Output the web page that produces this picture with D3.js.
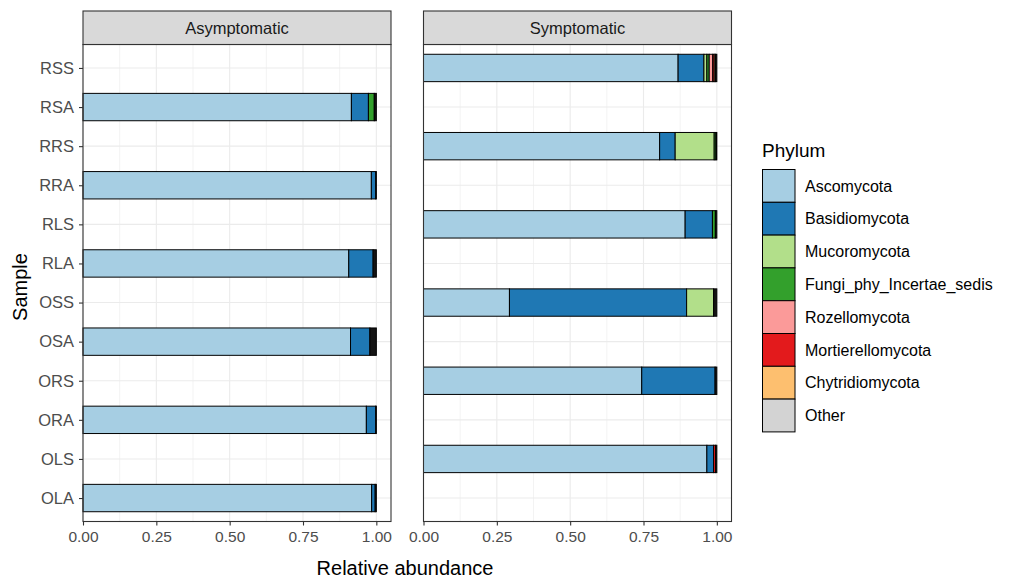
<!DOCTYPE html>
<html><head><meta charset="utf-8">
<script src="https://cdn.jsdelivr.net/npm/d3@7"></script>
<style>
body{margin:0;background:#fff;}
text{font-family:"Liberation Sans",Arial,sans-serif;}
</style></head>
<body><svg id="chart" width="1015" height="579"></svg>
<script>
// ---- data ----
const samples = ["RSS","RSA","RRS","RRA","RLS","RLA","OSS","OSA","ORS","ORA","OLS","OLA"];
const sampleGroup = ["Symptomatic","Asymptomatic","Symptomatic","Asymptomatic","Symptomatic","Asymptomatic",
                     "Symptomatic","Asymptomatic","Symptomatic","Asymptomatic","Symptomatic","Asymptomatic"];
const groups = ["Asymptomatic","Symptomatic"];
const phyla = ["Ascomycota","Basidiomycota","Mucoromycota","Fungi_phy_Incertae_sedis","Rozellomycota","Mortierellomycota","Chytridiomycota","Other"];
const phylaColors = ["#A6CEE3","#1F78B4","#B2DF8A","#33A02C","#FB9A99","#E31A1C","#FDBF6F","#D3D3D3"];
// relative abundance per phylum, in sample order
const ascomycota      = [0.868,0.915,0.805,0.983,0.892,0.906,0.293,0.912,0.744,0.966,0.966,0.984];
const basidiomycota   = [0.088,0.058,0.053,0.015,0.093,0.083,0.604,0.066,0.250,0.032,0.023,0.012];
const mucoromycota    = [0.010,0.000,0.133,0.000,0.000,0.000,0.092,0.000,0.000,0.000,0.000,0.000];
const fungiIncertae   = [0.008,0.020,0.006,0.000,0.010,0.000,0.000,0.000,0.000,0.000,0.000,0.000];
const rozellomycota   = [0.012,0.000,0.000,0.000,0.000,0.000,0.000,0.000,0.000,0.000,0.000,0.000];
const mortierellomycota=[0.005,0.000,0.000,0.000,0.000,0.000,0.000,0.000,0.000,0.000,0.007,0.000];
const chytridiomycota = [0.004,0.000,0.000,0.000,0.000,0.000,0.000,0.000,0.000,0.000,0.000,0.000];
const other           = [0.000,0.000,0.000,0.000,0.000,0.000,0.000,0.000,0.000,0.000,0.000,0.000];
// many tiny low-abundance OTU segments (their black outlines merge into a dark sliver)
const rareOTUs        = [0.005,0.007,0.003,0.002,0.005,0.011,0.011,0.022,0.006,0.002,0.004,0.004];
const xTicks = [0,0.25,0.5,0.75,1];
const xMinorTicks = [0.125,0.375,0.625,0.875];

const seriesValues = [ascomycota,basidiomycota,mucoromycota,fungiIncertae,rozellomycota,mortierellomycota,chytridiomycota,other,rareOTUs];
const seriesColors = phylaColors.concat(["#141414"]);

// ---- layout ----
const svg = d3.select("#chart");
const panelTop = 44.5, panelBottom = 521.5, stripTop = 11;
const panelX = {Asymptomatic:[83,391], Symptomatic:[423.5,731.5]};
const tickFont = 15.5;

const y = d3.scalePoint().domain(samples).range([panelTop, panelBottom]).padding(0.6);
const barH = y.step()*0.7;

groups.forEach(g => {
  const [x0,x1] = panelX[g];
  const x = d3.scaleLinear().domain([0,1.05]).range([x0,x1]);
  const p = svg.append("g");
  p.append("rect").attr("x",x0).attr("y",panelTop).attr("width",x1-x0).attr("height",panelBottom-panelTop).attr("fill","#fff");
  p.selectAll(".mn").data(xMinorTicks).join("line")
    .attr("x1",d=>x(d)).attr("x2",d=>x(d)).attr("y1",panelTop).attr("y2",panelBottom)
    .attr("stroke","#EBEBEB").attr("stroke-width",0.6);
  p.selectAll(".mj").data(xTicks).join("line")
    .attr("x1",d=>x(d)).attr("x2",d=>x(d)).attr("y1",panelTop).attr("y2",panelBottom)
    .attr("stroke","#EBEBEB").attr("stroke-width",1.1);
  p.selectAll(".my").data(samples).join("line")
    .attr("x1",x0).attr("x2",x1).attr("y1",d=>y(d)).attr("y2",d=>y(d))
    .attr("stroke","#EBEBEB").attr("stroke-width",1.1);
  samples.forEach((s,i) => {
    if (sampleGroup[i] !== g) return;
    let cum = 0;
    seriesValues.forEach((vals,k) => {
      const v = vals[i];
      if (v <= 0) return;
      p.append("rect")
        .attr("x",x(cum)).attr("width",x(cum+v)-x(cum))
        .attr("y",y(s)-barH/2).attr("height",barH)
        .attr("fill",seriesColors[k]).attr("stroke","#000").attr("stroke-width",1);
      cum += v;
    });
  });
  p.append("rect").attr("x",x0).attr("y",panelTop).attr("width",x1-x0).attr("height",panelBottom-panelTop)
    .attr("fill","none").attr("stroke","#333").attr("stroke-width",1.1);
  p.append("rect").attr("x",x0).attr("y",stripTop).attr("width",x1-x0).attr("height",panelTop-stripTop)
    .attr("fill","#D9D9D9").attr("stroke","#333").attr("stroke-width",1.1);
  p.append("text").attr("x",(x0+x1)/2).attr("y",(stripTop+panelTop)/2).attr("dy","0.35em")
    .attr("text-anchor","middle").attr("font-size",16.5).attr("fill","#1A1A1A").text(g);
  const ax = svg.append("g").attr("transform",`translate(0,${panelBottom})`)
    .call(d3.axisBottom(x).tickValues(xTicks).tickFormat(d3.format(".2f")).tickSize(4).tickPadding(5));
  ax.select(".domain").remove();
  ax.selectAll(".tick line").attr("stroke","#333").attr("stroke-width",1.1);
  ax.selectAll(".tick text").attr("font-size",tickFont).attr("fill","#4D4D4D").attr("font-family","Liberation Sans, Arial, sans-serif");
});

const ay = svg.append("g").attr("transform",`translate(${panelX.Asymptomatic[0]},0)`)
  .call(d3.axisLeft(y).tickSize(4).tickPadding(5));
ay.select(".domain").remove();
ay.selectAll(".tick line").attr("stroke","#333").attr("stroke-width",1.1);
ay.selectAll(".tick text").attr("font-size",tickFont+1).attr("fill","#4D4D4D").attr("font-family","Liberation Sans, Arial, sans-serif");

svg.append("text").attr("x",405).attr("y",575).attr("text-anchor","middle")
  .attr("font-size",20).attr("fill","#000").text("Relative abundance");
svg.append("text").attr("transform",`translate(27,${(panelTop+panelBottom)/2 + 4}) rotate(-90)`)
  .attr("text-anchor","middle").attr("font-size",20).attr("fill","#000").text("Sample");

const lg = svg.append("g");
lg.append("text").attr("x",762).attr("y",157).attr("font-size",19).attr("fill","#000").text("Phylum");
const keyH = 32.8, keyTop = 169.5, keyX = 762.5, keyW = 32.5;
phyla.forEach((ph,i) => {
  lg.append("rect").attr("x",keyX).attr("y",keyTop+i*keyH).attr("width",keyW).attr("height",keyH)
    .attr("fill",phylaColors[i]).attr("stroke","#000").attr("stroke-width",1);
  lg.append("text").attr("x",805).attr("y",keyTop+i*keyH+keyH/2).attr("dy","0.35em")
    .attr("font-size",16).attr("fill","#000").text(ph);
});
</script></body></html>
